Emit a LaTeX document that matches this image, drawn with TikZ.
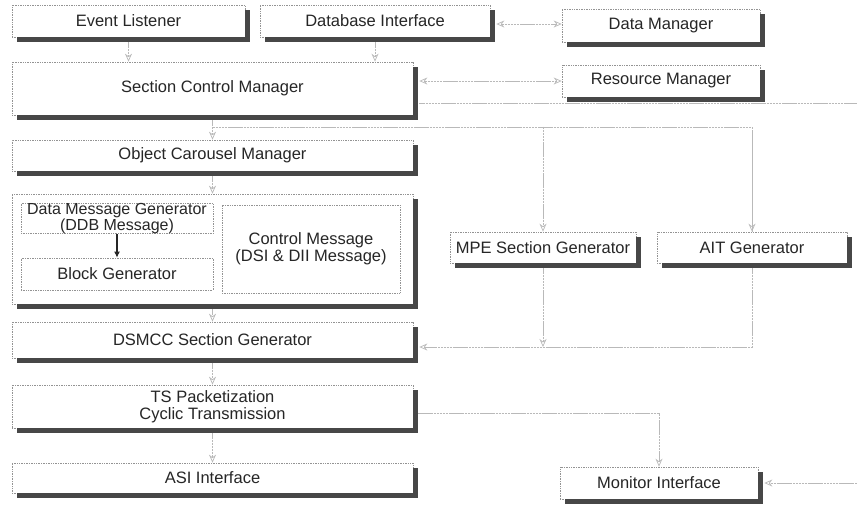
\documentclass[tikz,border=0pt]{standalone}
\usepackage{fontspec}
\setmainfont{Liberation Sans}
\usetikzlibrary{arrows.meta,calc}
\newcommand{\boxshadow}[1]{%
  \fill[shadowc] ($(#1.north east)+(0,5)$) rectangle ($(#1.south east)+(5,5)$);
  \fill[shadowc] ($(#1.south west)+(5,0)$) rectangle ($(#1.south east)+(5,5)$);}
\begin{document}
\begin{tikzpicture}[x=1pt,y=-1pt,
  shadowc/.style={fill=black!72},
  basebox/.style={draw=gray!85, densely dotted, line width=0.7pt, fill=white, text=black!85,
    inner sep=0pt, align=center, font=\fontsize{16.5}{17}\selectfont},
  box/.style={basebox},
  conn/.style={draw=gray!55, line width=1pt, dash pattern=on 2.5pt off 0.6pt},
  arr/.style={conn, -{Stealth[open, length=8pt, width=7pt, line width=0.7pt]}},
  darr/.style={conn, {Stealth[open, length=8pt, width=7pt, line width=0.7pt]}-{Stealth[open, length=8pt, width=7pt, line width=0.7pt]}},
  solidarr/.style={draw=black!85, line width=1.6pt, -{Latex[length=6pt, width=6pt]}}
]
\useasboundingbox (0,0) rectangle (857,507);

% boxes
\node[box, minimum width=233pt, minimum height=32pt] (ev)  at (128.5,21) {Event Listener};
\node[box, minimum width=230pt, minimum height=32pt] (db)  at (375,21)   {Database Interface};
\node[box, minimum width=198pt, minimum height=33pt] (dm)  at (661,25.5) {Data Manager};
\node[box, minimum width=401pt, minimum height=53pt] (scm) at (212.5,88.5) {Section Control Manager};
\node[box, minimum width=198pt, minimum height=32pt] (rm)  at (661,81)   {Resource Manager};
\node[box, minimum width=401pt, minimum height=31pt] (ocm) at (212.5,155.5) {Object Carousel Manager};
\node[box, minimum width=401pt, minimum height=110pt] (big) at (212.5,249) {};
\node[basebox, minimum width=192pt, minimum height=28pt, font=\fontsize{16}{14}\selectfont] (dmg) at (117,218.5) {Data Message Generator\\(DDB Message)};
\node[basebox, minimum width=192pt, minimum height=32pt] (bg)  at (117,274) {Block Generator};
\node[basebox, minimum width=178pt, minimum height=88pt] (cm)  at (311,249) {Control Message\\(DSI \& DII Message)};
\node[box, minimum width=186pt, minimum height=31pt] (mpe) at (543,247.5) {MPE Section Generator};
\node[box, minimum width=190pt, minimum height=31pt] (ait) at (752,247.5) {AIT Generator};
\node[box, minimum width=401pt, minimum height=36pt] (dsmcc) at (212.5,340) {DSMCC Section Generator};
\node[box, minimum width=401pt, minimum height=43pt] (ts)  at (212.5,406.5) {TS Packetization\\Cyclic Transmission};
\node[box, minimum width=401pt, minimum height=30pt] (asi) at (212.5,478) {ASI Interface};
\node[box, minimum width=198pt, minimum height=32pt] (mon) at (659,483) {Monitor Interface};

% shadows
\boxshadow{ev}\boxshadow{db}\boxshadow{dm}\boxshadow{scm}\boxshadow{rm}
\boxshadow{ocm}\boxshadow{big}\boxshadow{mpe}\boxshadow{ait}\boxshadow{dsmcc}
\boxshadow{ts}\boxshadow{asi}\boxshadow{mon}

% helper coordinates
\coordinate (j1) at (212.5,127);
\coordinate (j2) at (545,347);
\coordinate (edge1) at (857,103);
\coordinate (edge2) at (857,483);
\coordinate (tsout) at (418,413);

% connectors
\draw[arr] ($(ev.south)+(0,5)$) -- (ev.south |- scm.north);
\draw[arr] ($(db.south)+(0,5)$) -- (db.south |- scm.north);
\draw[darr] ($(db.east)+(6,3)$) -- ($(db.east -| dm.west)+(0,3)$);
\draw[darr] ($(rm.west -| scm.east)+(6,0)$) -- (rm.west);
\draw[conn] ($(scm.east |- edge1)+(6,0)$) -- (edge1);
\draw[arr] ($(scm.south)+(0,5)$) -- (ocm.north);
\draw[conn] (j1) -| (ait.north);
\draw[arr] ($(j1 -| mpe.north)+(0,-0.5)$) -- (mpe.north);
\draw[arr] ($(j1 -| ait.north)+(0,8)$) -- (ait.north);
\draw[arr] ($(ocm.south)+(0,5)$) -- (big.north);
\draw[solidarr] (dmg.south) -- (bg.north);
\draw[arr] ($(big.south)+(0,5)$) -- (dsmcc.north);
\draw[arr] ($(mpe.south)+(0,5)$) -- (mpe.south |- j2);
\draw[arr] ($(ait.south)+(0,5)$) |- ($(dsmcc.east |- j2)+(6,0)$);
\draw[arr] ($(dsmcc.south)+(0,5)$) -- (ts.north);
\draw[arr] ($(ts.south)+(0,5)$) -- (asi.north);
\draw[arr] (tsout) -| (mon.north);
\draw[arr] (edge2) -- ($(mon.east)+(6,0)$);
\end{tikzpicture}
\end{document}
